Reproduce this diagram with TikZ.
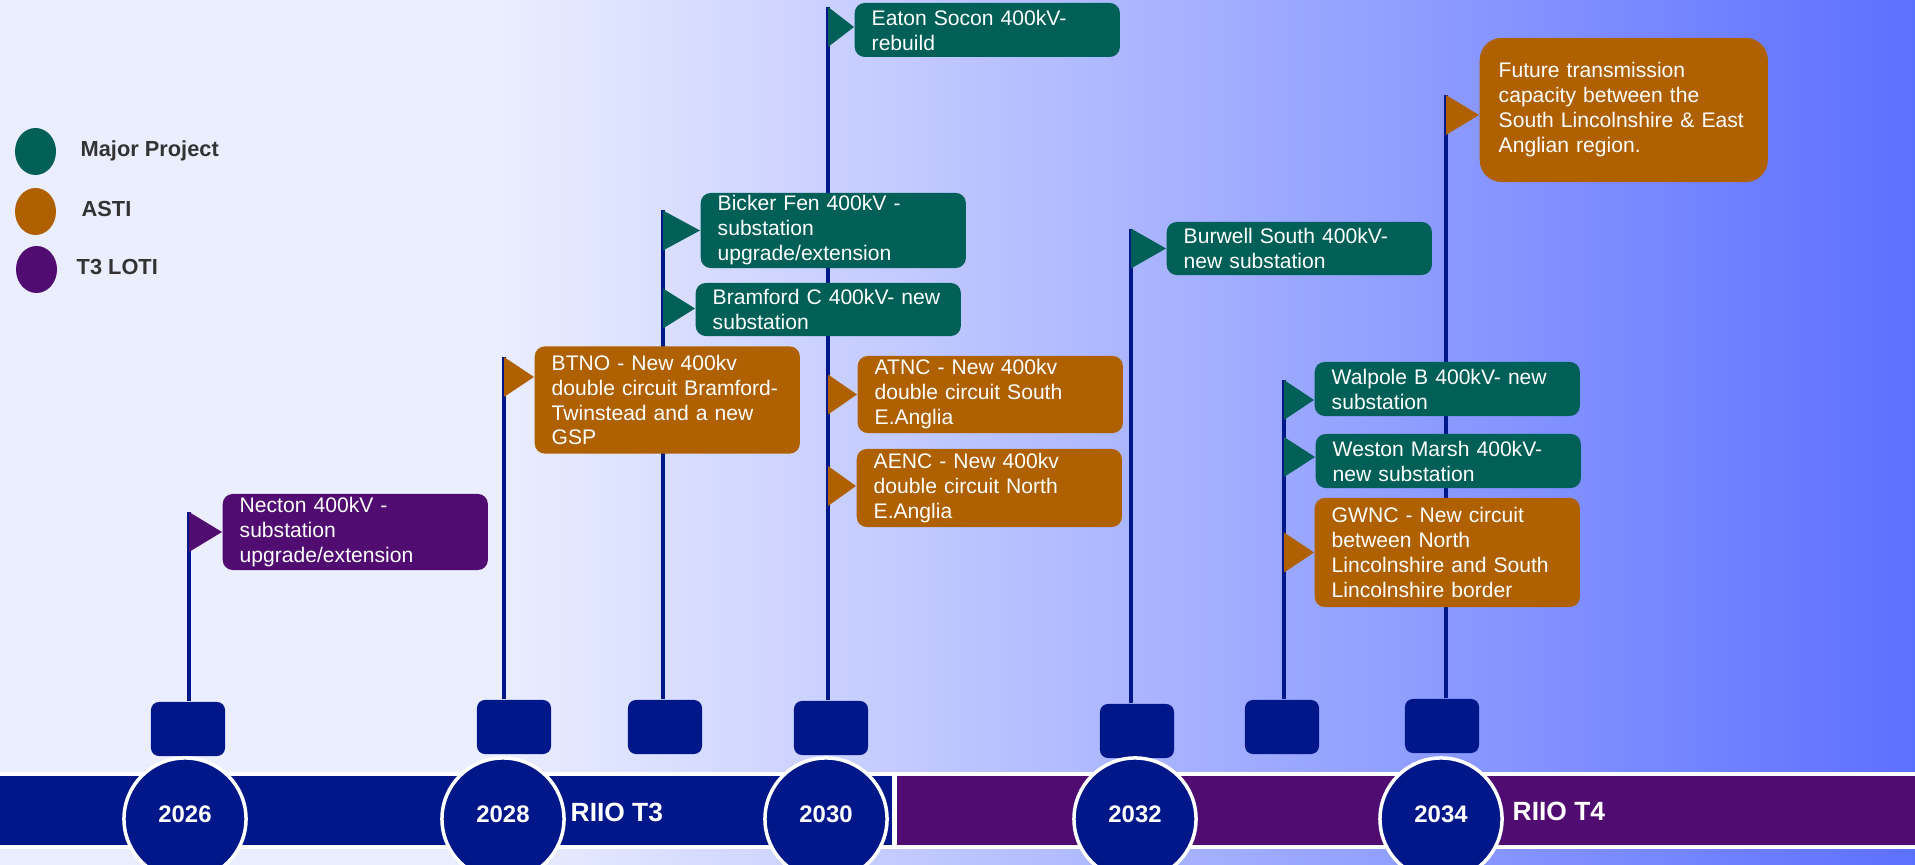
\documentclass[tikz,border=0pt]{standalone}
\usepackage{fontspec}
\setmainfont{Liberation Sans}
\usepackage{tikz}
\usetikzlibrary{calc,shapes.geometric}
\definecolor{bgpale}{RGB}{235,238,255}
\definecolor{bgblue}{RGB}{92,112,255}
\definecolor{navy}{RGB}{0,23,138}
\definecolor{majorcol}{RGB}{0,96,88}
\definecolor{asticol}{RGB}{175,96,0}
\definecolor{loticol}{RGB}{80,12,112}
\definecolor{legendtext}{RGB}{51,51,51}
\pgfdeclarehorizontalshading{skyshade}{100bp}{color(0bp)=(bgpale); color(25bp)=(bgpale); color(38bp)=(bgpale); color(75bp)=(bgblue); color(100bp)=(bgblue)}

\begin{document}
\begin{tikzpicture}[x=0.01cm, y=-0.01cm, project/.style={text=white, rounded corners=0.1cm, anchor=west, align=left, text width=2.31cm, inner xsep=0.17cm, inner ysep=0pt, font=\fontsize{6}{7.1}\selectfont}, stand/.style={fill=navy, rounded corners=0.08cm, minimum width=0.74cm, minimum height=0.54cm, inner sep=0pt}, yearball/.style={circle, fill=navy, draw=white, line width=0.035cm, minimum size=1.22cm, inner sep=0pt, text=white, text depth=0.1cm, font=\fontsize{6.8}{8}\selectfont\bfseries}, pole/.style={draw=navy, line width=0.045cm}, riio/.style={anchor=west, inner sep=0pt, text=white, font=\fontsize{7.5}{9}\selectfont\bfseries}, legdot/.style={ellipse, minimum width=0.41cm, minimum height=0.47cm, inner sep=0pt}, legtxt/.style={anchor=west, inner sep=0pt, text=legendtext, font=\fontsize{6.2}{7.5}\selectfont\bfseries}]
\useasboundingbox (0,0) rectangle (1915,865);
\shade[shading=skyshade] (0,0) rectangle (1915,865);

\node[legdot, fill=majorcol] (lgmaj) at (35.5,151.5) {};
\node[legdot, fill=asticol] (lgasti) at (35.5,211.5) {};
\node[legdot, fill=loticol] (lgloti) at (36.5,269.5) {};
\node[legtxt] (lgmajt) at (80,151) {Major Project};
\node[legtxt] (lgastit) at (81,209) {ASTI};
\node[legtxt] (lglotit) at (76,267) {T3 LOTI};

\filldraw[fill=navy, draw=white, line width=0.035cm] (-10,774) rectangle (894,847);
\filldraw[fill=loticol, draw=white, line width=0.035cm] (895,774) rectangle (1930,847);
\node[riio] (t3) at (570,812) {RIIO T3};
\node[riio] (t4) at (1512,811) {RIIO T4};

\node[stand] (sq1) at (188,729) {};
\node[stand] (sq2) at (514,727) {};
\node[stand] (sq3) at (665,727) {};
\node[stand] (sq4) at (831,728) {};
\node[stand] (sq5) at (1137,731) {};
\node[stand] (sq6) at (1282,727) {};
\node[stand] (sq7) at (1442,726) {};

\coordinate (p1) at (189,512);
\coordinate (p2) at (504,357);
\coordinate (p3) at (663,210);
\coordinate (p4) at (828,7);
\coordinate (p5) at (1131,229);
\coordinate (p6) at (1284,380);
\coordinate (p7) at (1446,95);
\foreach \i in {1,...,7}
  \draw[pole] (sq\i.north -| p\i) -- (p\i);

\node[project, fill=loticol, minimum height=0.76cm] (nec) at (222,532) {Necton 400kV -\\substation\\upgrade/extension};
\node[project, fill=asticol, minimum height=1.07cm] (btno) at (534,400) {BTNO - New 400kv\\double circuit Bramford-\\Twinstead and a new\\GSP};
\node[project, fill=majorcol, minimum height=0.75cm] (bick) at (700,230.5) {Bicker Fen 400kV -\\substation\\upgrade/extension};
\node[project, fill=majorcol, minimum height=0.53cm] (bram) at (695,309.5) {Bramford C 400kV- new\\substation};
\node[project, fill=majorcol, minimum height=0.54cm] (eat) at (854,30) {Eaton Socon 400kV-\\rebuild};
\node[project, fill=asticol, minimum height=0.77cm] (atnc) at (857,394.5) {ATNC - New 400kv\\double circuit South\\E.Anglia};
\node[project, fill=asticol, minimum height=0.78cm] (aenc) at (856,488) {AENC - New 400kv\\double circuit North\\E.Anglia};
\node[project, fill=majorcol, minimum height=0.53cm] (burw) at (1166,248.5) {Burwell South 400kV-\\new substation};
\node[project, fill=majorcol, minimum height=0.54cm] (walp) at (1314,389) {Walpole B 400kV- new\\substation};
\node[project, fill=majorcol, minimum height=0.54cm] (wmar) at (1315,461) {Weston Marsh 400kV-\\new substation};
\node[project, fill=asticol, minimum height=1.09cm] (gwnc) at (1314,552.5) {GWNC - New circuit\\between North\\Lincolnshire and South\\Lincolnshire border};
\node[project, fill=asticol, minimum height=1.44cm, text width=2.5cm, inner xsep=0.19cm, rounded corners=0.22cm] (fut) at (1479,110) {Future transmission\\capacity between the\\South Lincolnshire \& East\\Anglian region.};

\foreach \b/\p/\c/\dy in {nec/p1/loticol/0, btno/p2/asticol/-23, bick/p3/majorcol/0, bram/p3/majorcol/-1, eat/p4/majorcol/-3, atnc/p4/asticol/0, aenc/p4/asticol/-2, burw/p5/majorcol/0, walp/p6/majorcol/11, wmar/p6/majorcol/-4, gwnc/p6/asticol/0, fut/p7/asticol/5}{
  \coordinate (f) at ($(\b.west)+(0,\dy)$);
  \fill[\c] (f) -- ($(f -| \p)+(0,-20)$) -- ($(f -| \p)+(0,20)$) -- cycle;
}

\node[yearball] (y26) at (185,819) {2026};
\node[yearball] (y28) at (503,819) {2028};
\node[yearball] (y30) at (826,819) {2030};
\node[yearball] (y32) at (1135,819) {2032};
\node[yearball] (y34) at (1441,819) {2034};
\end{tikzpicture}
\end{document}
